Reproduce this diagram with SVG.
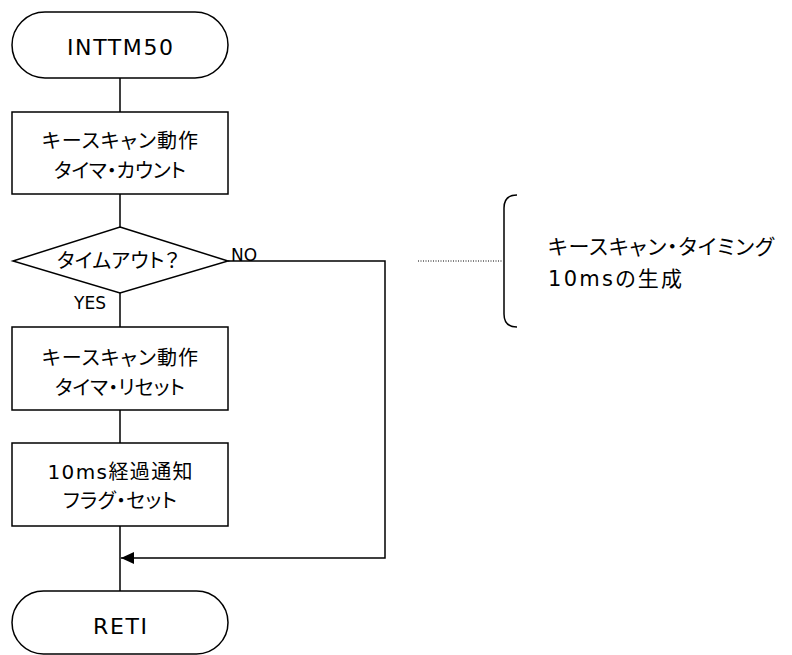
<svg xmlns="http://www.w3.org/2000/svg" width="792" height="655" viewBox="0 0 792 655">
<style>
.shape{fill:#fff;stroke:#000;stroke-width:1.5}
.line{fill:none;stroke:#000;stroke-width:1.5}
.dot{fill:none;stroke:#000;stroke-width:1;stroke-dasharray:1 1.5}
.lat{font-family:"DejaVu Sans","Noto Sans CJK JP",sans-serif;fill:#000}
.jp{font-family:"DejaVu Sans","Noto Sans CJK JP",sans-serif;font-size:20px;fill:#000;font-feature-settings:"palt"}
.big{font-size:21px}
.mid{text-anchor:middle}
</style>
<rect width="792" height="655" fill="#fff"/>
<g id="connectors">
<path class="line" d="M120,78V112M120,194V227M120,293V327M120,410V443M120,526V591"/>
<path class="line" d="M228,261H385V558H121"/>
<polygon points="121,558 134,552 134,564" fill="#000"/>
<path class="dot" d="M418,261H503"/>
</g>
<g id="start">
<rect class="shape" x="12" y="12" width="216" height="66" rx="33" ry="33"/>
<text class="lat mid" x="120" y="55" font-size="22" textLength="106" lengthAdjust="spacing">INTTM50</text>
</g>
<g id="count">
<rect class="shape" x="12" y="112" width="216" height="82"/>
<text class="jp mid" x="120" y="148" textLength="156" lengthAdjust="spacing">キースキャン動作</text>
<text class="jp mid" x="120" y="178" textLength="132" lengthAdjust="spacing">タイマ・カウント</text>
</g>
<g id="timeout">
<polygon class="shape" points="120,227 228,261 120,293 13,261"/>
<text class="jp mid" x="118" y="268" textLength="122" lengthAdjust="spacing">タイムアウト？</text>
<text class="lat" x="231" y="261" font-size="17">NO</text>
<text class="lat mid" x="90" y="309" font-size="17">YES</text>
</g>
<g id="reset">
<rect class="shape" x="12" y="327" width="216" height="83"/>
<text class="jp mid" x="120" y="365" textLength="156" lengthAdjust="spacing">キースキャン動作</text>
<text class="jp mid" x="120" y="395" textLength="130" lengthAdjust="spacing">タイマ・リセット</text>
</g>
<g id="flag">
<rect class="shape" x="12" y="443" width="216" height="83"/>
<text class="jp mid" x="120" y="479" textLength="145" lengthAdjust="spacing">10ms経過通知</text>
<text class="jp mid" x="120" y="508" textLength="114" lengthAdjust="spacing">フラグ・セット</text>
</g>
<g id="end">
<rect class="shape" x="12" y="591" width="216" height="63" rx="31.5" ry="31.5"/>
<text class="lat mid" x="120" y="634" font-size="22" textLength="54" lengthAdjust="spacing">RETI</text>
</g>
<g id="note">
<path class="line" d="M517,195Q504,195 504,208V314Q504,327 517,327"/>
<text class="jp big" x="548" y="254" textLength="226" lengthAdjust="spacing">キースキャン・タイミング</text>
<text class="jp big" x="548" y="286" textLength="134" lengthAdjust="spacing">10msの生成</text>
</g>
</svg>
